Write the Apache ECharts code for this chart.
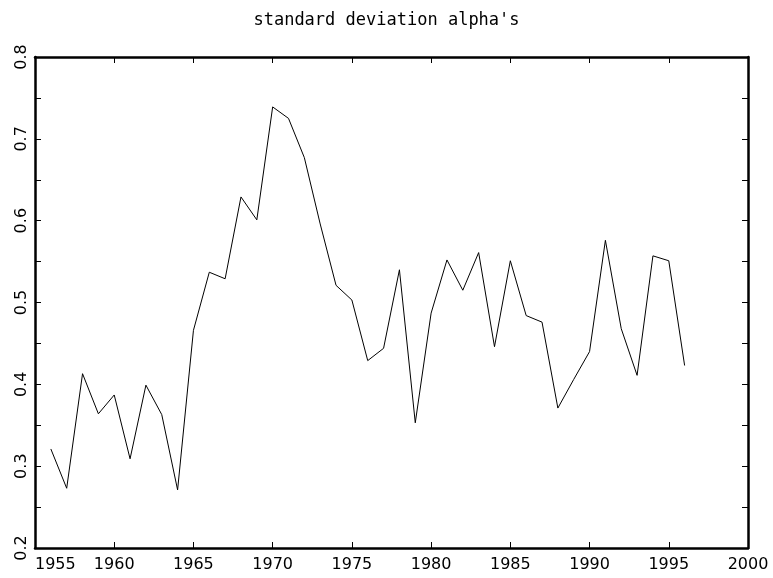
<!DOCTYPE html>
<html>
<head>
<meta charset="utf-8">
<script src="https://cdn.jsdelivr.net/npm/echarts@6/dist/echarts.min.js"></script>
<style>
  html, body { margin: 0; padding: 0; background: #fff; }
  #chart { width: 773px; height: 578px; }
</style>
</head>
<body>
<div id="chart"></div>
<script>
// years and standard deviation of alpha's
const years = [1956, 1957, 1958, 1959, 1960, 1961, 1962, 1963, 1964, 1965,
               1966, 1967, 1968, 1969, 1970, 1971, 1972, 1973, 1974, 1975,
               1976, 1977, 1978, 1979, 1980, 1981, 1982, 1983, 1984, 1985,
               1986, 1987, 1988, 1989, 1990, 1991, 1992, 1993, 1994, 1995, 1996];
const sdAlpha = [0.321, 0.273, 0.413, 0.364, 0.387, 0.309, 0.399, 0.363, 0.271, 0.466,
                 0.537, 0.529, 0.629, 0.601, 0.739, 0.725, 0.677, 0.596, 0.521, 0.503,
                 0.429, 0.444, 0.540, 0.353, 0.487, 0.552, 0.515, 0.561, 0.446, 0.551,
                 0.484, 0.476, 0.371, 0.406, 0.440, 0.576, 0.468, 0.411, 0.557, 0.551, 0.423];
const yTickLabels = ['0.2', '0.3', '0.4', '0.5', '0.6', '0.7', '0.8'];

const points = years.map((y, i) => [y, sdAlpha[i]]);

const axisFont = { fontFamily: 'DejaVu Sans', fontSize: 16, color: '#000' };
const lineStyle = { color: '#000', width: 2.5 };
const tickStyle = { show: true, inside: true, length: 6, lineStyle: { color: '#000', width: 1 } };

const chart = echarts.init(document.getElementById('chart'));
chart.setOption({
  animation: false,
  backgroundColor: '#fff',
  title: {
    text: "standard deviation alpha's",
    left: 'center',
    top: 7,
    textStyle: { fontFamily: 'DejaVu Sans Mono', fontSize: 17, fontWeight: 'normal', color: '#000' }
  },
  grid: { left: 35, right: 25, top: 57, bottom: 30 },
  xAxis: [
    {
      type: 'value', position: 'bottom', min: 1955, max: 2000, interval: 5,
      axisLine: { show: true, lineStyle: lineStyle },
      axisTick: tickStyle,
      splitLine: { show: false },
      axisLabel: Object.assign({ margin: 9, alignMinLabel: 'left', formatter: v => String(v) }, axisFont)
    },
    {
      type: 'value', position: 'top', min: 1955, max: 2000, interval: 5,
      axisLine: { show: true, lineStyle: lineStyle },
      axisTick: tickStyle,
      splitLine: { show: false },
      axisLabel: { show: false }
    }
  ],
  yAxis: [
    {
      type: 'value', position: 'left', min: 0.2, max: 0.8, interval: 0.05,
      axisLine: { show: true, lineStyle: lineStyle },
      axisTick: tickStyle,
      splitLine: { show: false },
      axisLabel: Object.assign({
        rotate: 90, margin: 5,
        formatter: v => {
          const k = Math.round(v * 100);
          return k % 10 === 0 ? yTickLabels[(k - 20) / 10] : '';
        }
      }, axisFont)
    },
    {
      type: 'value', position: 'right', min: 0.2, max: 0.8, interval: 0.05,
      axisLine: { show: true, lineStyle: lineStyle },
      axisTick: tickStyle,
      splitLine: { show: false },
      axisLabel: { show: false }
    }
  ],
  series: [{
    type: 'line',
    data: points,
    showSymbol: false,
    lineStyle: { color: '#000', width: 1 },
    xAxisIndex: 0,
    yAxisIndex: 0
  }]
});
</script>
</body>
</html>
